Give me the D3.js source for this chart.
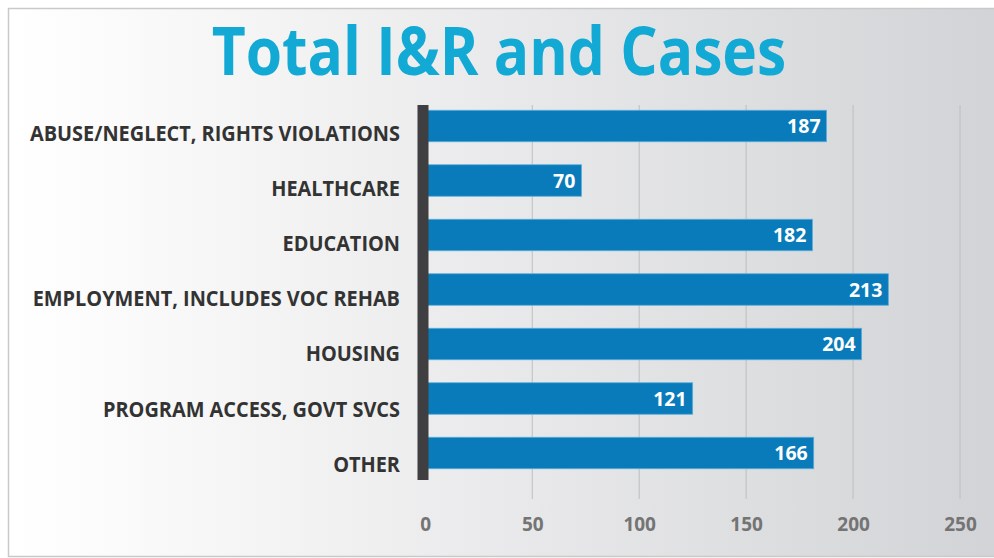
<!DOCTYPE html>
<html>
<head>
<meta charset="utf-8">
<script src="https://cdn.jsdelivr.net/npm/d3@7"></script>
<style>
  html, body { margin: 0; padding: 0; background: #ffffff; }
  svg { display: block; }
  text { font-family: "Open Sans", "Noto Sans", sans-serif; font-weight: 700; }
</style>
</head>
<body>
<svg id="chart" width="994" height="558"></svg>
<script>
// ---- data ----
const title = "Total I&R and Cases";
const categories = [
  "ABUSE/NEGLECT, RIGHTS VIOLATIONS",
  "HEALTHCARE",
  "EDUCATION",
  "EMPLOYMENT, INCLUDES VOC REHAB",
  "HOUSING",
  "PROGRAM ACCESS, GOVT SVCS",
  "OTHER"
];
// numbers printed on the bars
const valueLabels = [187, 70, 182, 213, 204, 121, 166];
// bar lengths as drawn in the picture (read against the axis)
const barValues = [187.6, 73, 181, 216.5, 204, 125, 181.6];
const tickValues = [0, 50, 100, 150, 200, 250];

// ---- layout ----
const W = 994, H = 558;
const svg = d3.select("#chart");
const defs = svg.append("defs");
const grad = defs.append("linearGradient").attr("id", "bg")
  .attr("x1", "0%").attr("x2", "100%").attr("y1", "0%").attr("y2", "0%");
grad.append("stop").attr("offset", "0%").attr("stop-color", "#ffffff");
grad.append("stop").attr("offset", "10%").attr("stop-color", "#fbfbfb");
grad.append("stop").attr("offset", "100%").attr("stop-color", "#d2d3d6");

svg.append("rect").attr("x", 0).attr("y", 0).attr("width", W).attr("height", H).attr("fill", "#ffffff");
svg.append("rect").attr("x", 8.5).attr("y", 8.5).attr("width", W).attr("height", 548)
  .attr("fill", "url(#bg)").attr("stroke", "#c9c9c9").attr("stroke-width", 1.5);

const x = d3.scaleLinear().domain([0, 250]).range([425.3, 960]);
const y = d3.scalePoint().domain(categories).range([126, 453]);      // bar centres
const yLab = d3.scalePoint().domain(categories).range([133, 464]);   // category label centres
const barH = 31.5;

// gridlines
svg.append("g").selectAll("line").data(tickValues.filter(d => d > 0)).join("line")
  .attr("x1", d => x(d)).attr("x2", d => x(d))
  .attr("y1", 105).attr("y2", 499)
  .attr("stroke", "#bdbec1").attr("stroke-width", 1);

// bars
svg.append("g").selectAll("rect").data(categories).join("rect")
  .attr("x", x(0))
  .attr("y", (d) => y(d) - barH / 2)
  .attr("width", (d, i) => x(barValues[i]) - x(0))
  .attr("height", barH)
  .attr("fill", "#0a7bba")
  .attr("stroke", "#5aaedb").attr("stroke-width", 0.8);

// value labels
svg.append("g").selectAll("text").data(categories).join("text")
  .attr("x", (d, i) => x(barValues[i]) - 6)
  .attr("y", d => y(d) + 7)
  .attr("text-anchor", "end")
  .attr("fill", "#ffffff")
  .attr("font-size", 19.5)
  .text((d, i) => valueLabels[i]);

// dark axis bar
svg.append("rect").attr("x", 417.5).attr("y", 105).attr("width", 11).attr("height", 375)
  .attr("fill", "#3f3f41");

// category labels
svg.append("g").selectAll("text").data(categories).join("text")
  .attr("transform", d => `translate(400,${yLab(d) + 7.8}) scale(0.905,1)`)
  .attr("text-anchor", "end")
  .attr("fill", "#333333")
  .attr("font-size", 22)
  .text(d => d);

// x axis tick labels
const axis = d3.axisBottom(x).tickValues(tickValues).tickSize(0).tickPadding(0);
const ag = svg.append("g").attr("transform", "translate(0,517)").call(axis);
ag.select(".domain").remove();
ag.selectAll("text")
  .attr("dy", "0.72em")
  .attr("font-size", 19)
  .attr("font-family", "'Open Sans', sans-serif")
  .attr("font-weight", 700)
  .attr("fill", "#747474");

// title
svg.append("text")
  .attr("transform", "translate(499,75) scale(0.89,1)")
  .attr("text-anchor", "middle")
  .attr("fill", "#12a9d5")
  .attr("font-size", 66)
  .text(title);
</script>
</body>
</html>
